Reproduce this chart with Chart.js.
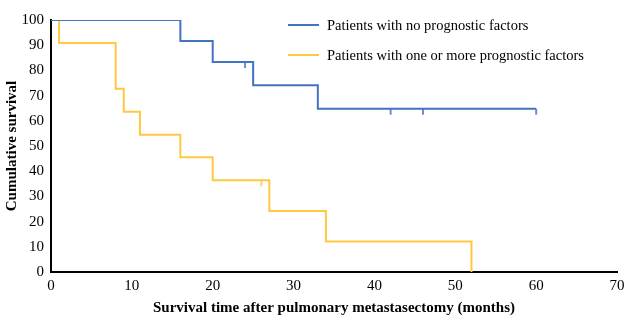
<!DOCTYPE html>
<html>
<head>
<meta charset="utf-8">
<script src="https://cdn.jsdelivr.net/npm/chart.js@4"></script>
<style>
  html, body { margin: 0; padding: 0; background: #fff; }
  #wrap { width: 640px; height: 330px; }
</style>
</head>
<body>
<div id="wrap"><canvas id="kmChart" width="640" height="330"></canvas></div>
<script>
// Kaplan-Meier steps: event times (months) and survival (%)
const noFactorTimes = [0, 16, 20, 25, 33, 60];
const noFactorSurv = [100, 91.7, 83.3, 74.1, 64.8, 64.8];
const noFactorCensored = [24, 42, 46, 60];

const withFactorTimes = [0, 1, 8, 9, 11, 16, 20, 27, 34, 52];
const withFactorSurv = [100, 90.9, 72.7, 63.6, 54.5, 45.5, 36.4, 24.2, 12.1, 0];
const withFactorCensored = [26];

const xTicks = [0, 10, 20, 30, 40, 50, 60, 70];
const yTicks = [0, 10, 20, 30, 40, 50, 60, 70, 80, 90, 100];

const seriesLabels = ['Patients with no prognostic factors', 'Patients with one or more prognostic factors'];
const blue = '#4472C4';
const gold = '#FFC840';

const toPoints = (xs, ys) => xs.map((x, i) => ({ x: x, y: ys[i] }));

// survival value at time t
function survAt(xs, ys, t) {
    let v = ys[0];
    xs.forEach((x, i) => { if (x <= t) v = ys[i]; });
    return v;
}

// censor tick: short vertical stroke hanging below the curve
function censorMark(color) {
    const c = document.createElement('canvas');
    c.width = 4; c.height = 14;
    const g = c.getContext('2d');
    g.strokeStyle = color;
    g.lineWidth = 1.6;
    g.beginPath();
    g.moveTo(2, 7);
    g.lineTo(2, 13);
    g.stroke();
    return c;
}

const serif = "'Liberation Serif', 'Times New Roman', serif";

// legend drawn in the upper right of the plot
const sideLegend = {
    id: 'sideLegend',
    afterDraw(chart) {
        const ctx = chart.ctx;
        const colors = [blue, gold];
        ctx.save();
        ctx.font = '14.5px ' + serif;
        ctx.textBaseline = 'middle';
        seriesLabels.forEach((label, i) => {
            const y = 25 + i * 30;
            ctx.strokeStyle = colors[i];
            ctx.lineWidth = 2;
            ctx.beginPath();
            ctx.moveTo(288, y);
            ctx.lineTo(319, y);
            ctx.stroke();
            ctx.fillStyle = '#000';
            ctx.fillText(label, 327, y + 1);
        });
        ctx.restore();
    }
};

new Chart(document.getElementById('kmChart'), {
    type: 'line',
    data: {
        datasets: [{
            label: seriesLabels[0],
            data: toPoints(noFactorTimes, noFactorSurv),
            borderColor: blue,
            borderWidth: 2,
            stepped: true,
            pointRadius: 0,
            fill: false
        }, {
            label: seriesLabels[1],
            data: toPoints(withFactorTimes, withFactorSurv),
            borderColor: gold,
            borderWidth: 2,
            stepped: true,
            pointRadius: 0,
            fill: false
        }, {
            label: 'censored',
            data: noFactorCensored.map(t => ({ x: t, y: survAt(noFactorTimes, noFactorSurv, t) })),
            showLine: false,
            pointStyle: censorMark(blue),
            pointRadius: 5
        }, {
            label: 'censored',
            data: withFactorCensored.map(t => ({ x: t, y: survAt(withFactorTimes, withFactorSurv, t) })),
            showLine: false,
            pointStyle: censorMark(gold),
            pointRadius: 5
        }]
    },
    options: {
        responsive: false,
        animation: false,
        layout: { padding: { left: 0, top: 20, right: 23, bottom: 0 } },
        plugins: { legend: { display: false }, tooltip: { enabled: false } },
        scales: {
            x: {
                type: 'linear',
                min: 0, max: 70,
                afterBuildTicks: s => { s.ticks = xTicks.map(v => ({ value: v })); },
                afterFit: s => { s.height = 58; },
                grid: { display: false, drawTicks: false },
                border: { display: true, color: '#000', width: 2 },
                ticks: { color: '#000', padding: 5, font: { family: serif, size: 15 } },
                title: {
                    display: true,
                    text: 'Survival time after pulmonary metastasectomy (months)',
                    color: '#000',
                    font: { family: serif, size: 15, weight: 'bold' },
                    padding: { top: 10, bottom: 13 }
                }
            },
            y: {
                min: 0, max: 100,
                afterBuildTicks: s => { s.ticks = yTicks.map(v => ({ value: v })); },
                afterFit: s => { s.width = 51; },
                grid: { display: false, drawTicks: false },
                border: { display: true, color: '#000', width: 2 },
                ticks: { color: '#000', padding: 7, font: { family: serif, size: 15 } },
                title: {
                    display: true,
                    text: 'Cumulative survival',
                    color: '#000',
                    font: { family: serif, size: 15, weight: 'bold' },
                    padding: { top: 3, bottom: 0 }
                }
            }
        }
    },
    plugins: [sideLegend]
});
</script>
</body>
</html>
